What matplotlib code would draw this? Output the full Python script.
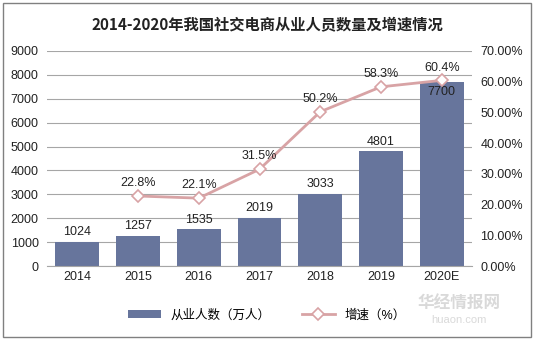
import matplotlib.pyplot as plt
from matplotlib.patches import Rectangle
from matplotlib.ticker import FuncFormatter

plt.rcParams["font.family"] = ["Liberation Sans", "Noto Sans CJK SC", "DejaVu Sans"]

years = ["2014", "2015", "2016", "2017", "2018", "2019", "2020E"]
workers = [1024, 1257, 1535, 2019, 3033, 4801, 7700]
growth = [None, 22.8, 22.1, 31.5, 50.2, 58.3, 60.4]

bar_color = "#67759C"
line_color = "#D8A3A5"

fig = plt.figure(figsize=(5.34, 3.39), dpi=100)
fig.patches.append(Rectangle((0.006, 0.006), 0.988, 0.985, transform=fig.transFigure,
                             fill=False, edgecolor="#808080", linewidth=1))

ax = fig.add_axes([0.088, 0.215, 0.796, 0.635])
x = list(range(len(years)))
ax.bar(x, workers, width=0.72, color=bar_color, zorder=2, label="从业人数（万人）")
ax.set_ylim(0, 9000)
ax.set_yticks(range(0, 9001, 1000))
ax.set_xlim(-0.5, len(years) - 0.5)
ax.set_xticks(x)
ax.set_xticklabels(years)
ax.grid(axis="y", color="#A6A6A6", linewidth=0.8, zorder=0)
for s in ["top", "right", "left"]:
    ax.spines[s].set_visible(False)
ax.spines["bottom"].set_color("#A6A6A6")
ax.tick_params(axis="both", length=0, labelsize=9, colors="#222222")
ax.tick_params(axis="y", pad=6)

for i, v in enumerate(workers):
    if i == len(workers) - 1:
        ax.text(i, v - 180, str(v), ha="center", va="top", fontsize=9, color="#222222")
    else:
        ax.text(i, v + 150, str(v), ha="center", va="bottom", fontsize=9, color="#222222")

ax2 = ax.twinx()
gx = [i for i, g in enumerate(growth) if g is not None]
gy = [g for g in growth if g is not None]
ax2.plot(gx, gy, color=line_color, linewidth=2, marker="D", markersize=6,
         markerfacecolor="white", markeredgecolor=line_color, markeredgewidth=1.2,
         zorder=3, label="增速（%）")
ax2.set_ylim(0, 70)
ax2.set_yticks(range(0, 71, 10))
ax2.yaxis.set_major_formatter(FuncFormatter(lambda v, p: f"{v:.2f}%"))
for s in ["top", "right", "left", "bottom"]:
    ax2.spines[s].set_visible(False)
ax2.tick_params(axis="y", length=0, labelsize=9, colors="#222222", pad=6)
for i, g in zip(gx, gy):
    ax2.text(i, g + 2.2, f"{g}%", ha="center", va="bottom", fontsize=9, color="#222222")

fig.text(0.5, 0.925, "2014-2020年我国社交电商从业人员数量及增速情况", ha="center", va="center",
         fontsize=11, fontweight="bold", color="#222222",
         family=["Noto Sans CJK SC", "DejaVu Sans"])

h1, l1 = ax.get_legend_handles_labels()
h2, l2 = ax2.get_legend_handles_labels()
fig.legend(h1 + h2, l1 + l2, loc="center", bbox_to_anchor=(0.5, 0.07), ncol=2,
           frameon=False, fontsize=9, handlelength=2.6, columnspacing=2.5)

fig.text(0.86, 0.105, "华经情报网", ha="center", va="center", fontsize=12,
         fontweight="bold", color="#D0D0D0", alpha=0.8,
         family=["Noto Sans CJK SC", "DejaVu Sans"])
fig.text(0.86, 0.055, "huaon.com", ha="center", va="center", fontsize=8,
         color="#D0D0D0", alpha=0.8)

fig.savefig("out.png", dpi=100)
